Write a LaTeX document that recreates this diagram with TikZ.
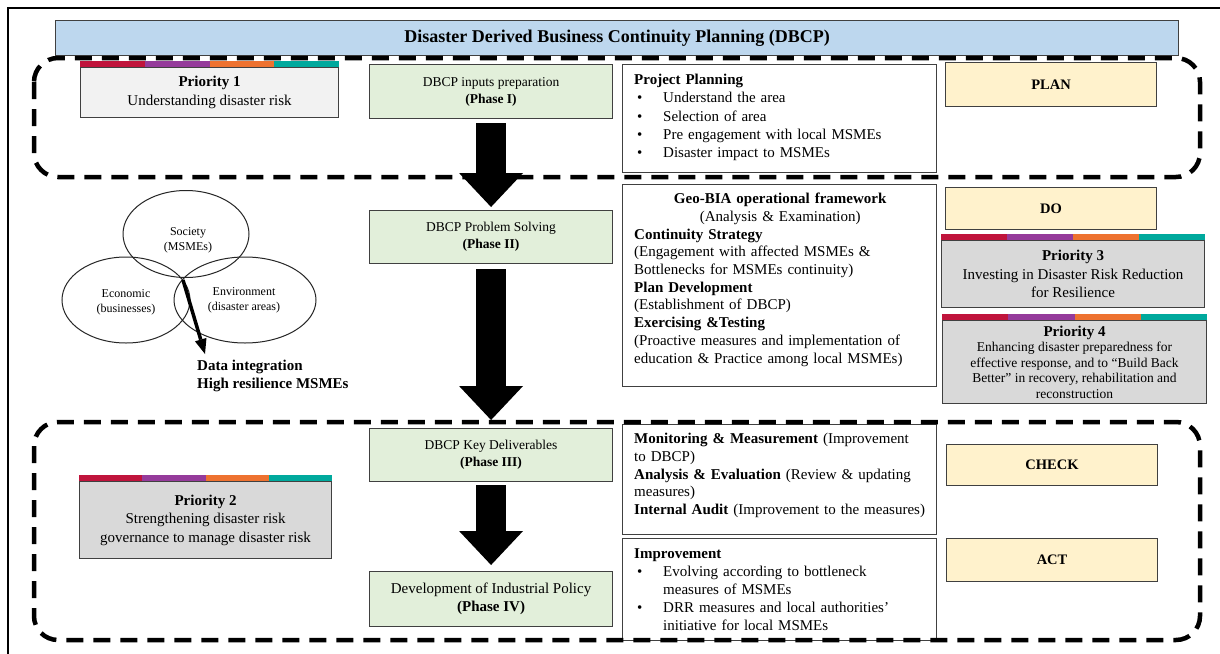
\documentclass[tikz,border=0pt]{standalone}
\usepackage{fontspec}
\setmainfont{Liberation Serif}
\usetikzlibrary{arrows.meta,calc,shapes.geometric}
\definecolor{titleblue}{HTML}{BDD7EE}
\definecolor{phasegreen}{HTML}{E2EFDA}
\definecolor{pdcayellow}{HTML}{FFF2CC}
\definecolor{prigray}{HTML}{D9D9D9}
\definecolor{prilight}{HTML}{F2F2F2}
\definecolor{edgegray}{HTML}{404040}
\definecolor{barred}{HTML}{C0143C}
\definecolor{barpurple}{HTML}{953B9B}
\definecolor{barorange}{HTML}{EE7230}
\definecolor{barteal}{HTML}{00A99D}
\newcommand{\fs}[2]{\fontsize{#1}{#2}\selectfont}
\newcommand{\bul}[1]{\par\noindent\makebox[29pt][l]{\hspace{3pt}\textbullet}#1}
\newcommand{\bulcont}[1]{\par\noindent\hspace*{29pt}#1}
\newcommand{\prioritybar}[1]{%
  \foreach \c [count=\i from 0] in {barred,barpurple,barorange,barteal}
    \fill[\c] ($(#1.north west)!{\i/4}!(#1.north east)$) rectangle ($(#1.north west)!{(\i+1)/4}!(#1.north east)+(0,-6)$);}
\begin{document}
\begin{tikzpicture}[x=1pt,y=-1pt,
  box/.style={draw=edgegray, line width=1.1pt, inner sep=0pt, anchor=north west},
  phase/.style={box, fill=phasegreen, minimum width=243pt, align=center, font=\fs{13.5}{17}},
  pdca/.style={box, fill=pdcayellow, minimum width=211pt, font=\bfseries\fs{14.5}{17}},
  prio/.style={box, fill=prigray, align=center, font=\fs{15}{18.5}},
  txtbox/.style={box, fill=white, minimum width=314pt},
  bodytext/.style={anchor=north west, inner sep=0pt, text width=292pt, font=\fs{15}{17.7}},
  dashedframe/.style={draw=black, line width=4.5pt, dash pattern=on 17pt off 10pt, rounded corners=24pt},
  blockarrow/.style={line width=30pt, -{Triangle[width=64pt,length=34pt,line width=0pt]}},
  vennset/.style={ellipse, draw=black!85, line width=1pt, inner sep=0pt},
  venntext/.style={inner sep=0pt, align=center, font=\fs{12}{15}}
]
\useasboundingbox (0,0) rectangle (1220,653);
\fill[white] (0,0) rectangle (1220,653);
% outer frame
\draw[line width=2pt] (8,8) rectangle (1232,670);

% title
\node[box, fill=titleblue, minimum width=1123pt, minimum height=35pt, font=\bfseries\fs{18}{20}] (title) at (55,20) {Disaster Derived Business Continuity Planning (DBCP)};

% priority boxes
\node[prio, fill=prilight, minimum width=258pt, minimum height=50pt] (pri1) at (80,67) {\textbf{Priority 1}\\Understanding disaster risk};
\prioritybar{pri1}
\node[prio, minimum width=252pt, minimum height=77pt] (pri2) at (79,481) {\textbf{Priority 2}\\Strengthening disaster risk\\governance to manage disaster risk};
\prioritybar{pri2}
\node[prio, minimum width=263pt, minimum height=67pt] (pri3) at (941,240) {\textbf{Priority 3}\\Investing in Disaster Risk Reduction\\for Resilience};
\prioritybar{pri3}
\node[prio, minimum width=264pt, minimum height=83pt, font=\fs{13.5}{15.5}] (pri4) at (942,320) {{\fs{15}{17}\textbf{Priority 4}}\\Enhancing disaster preparedness for\\effective response, and to ``Build Back\\Better'' in recovery, rehabilitation and\\reconstruction};
\prioritybar{pri4}

% phases
\node[phase, minimum height=54pt] (ph1) at (369,64) {DBCP inputs preparation\\\textbf{(Phase I)}};
\node[phase, minimum height=53pt] (ph2) at (369,210) {DBCP Problem Solving\\\textbf{(Phase II)}};
\node[phase, minimum height=53pt] (ph3) at (369,428) {DBCP Key Deliverables\\\textbf{(Phase III)}};
\node[phase, minimum height=55pt, font=\fs{15}{18}] (ph4) at (369,571) {Development of Industrial Policy\\\textbf{(Phase IV)}};

% PDCA
\node[pdca, minimum height=44pt] (plan) at (945,62) {PLAN};
\node[pdca, minimum height=42pt] (do) at (945,187) {DO};
\node[pdca, minimum height=41pt] (check) at (946,444) {CHECK};
\node[pdca, minimum height=43pt] (act) at (946,538) {ACT};

% text boxes
\node[txtbox, minimum height=108pt] (pp) at (622,64) {};
\node[bodytext, font=\fs{15}{18.3}] (pptext) at (634,74) {\textbf{Project Planning}\bul{Understand the area}\bul{Selection of area}\bul{Pre engagement with local MSMEs}\bul{Disaster impact to MSMEs}};

\node[txtbox, minimum height=202pt] (geo) at (622,184) {};
\node[bodytext] (geotext) at (634,193) {{\centering\textbf{Geo-BIA operational framework}\\(Analysis \& Examination)\par}\raggedright
\textbf{Continuity Strategy}\\(Engagement with affected MSMEs \&\\Bottlenecks for MSMEs continuity)\\\textbf{Plan Development}\\(Establishment of DBCP)\\\textbf{Exercising \&Testing}\\(Proactive measures and implementation of\\education \& Practice among local MSMEs)};

\node[txtbox, minimum height=110pt] (mon) at (622,424) {};
\node[bodytext] (montext) at (634,433) {\raggedright\textbf{Monitoring \& Measurement} (Improvement\\to DBCP)\\\textbf{Analysis \& Evaluation} (Review \& updating\\measures)\\\textbf{Internal Audit} (Improvement to the measures)};

\node[txtbox, minimum height=102pt] (imp) at (622,538) {};
\node[bodytext, font=\fs{15}{18}] (imptext) at (634,548) {\textbf{Improvement}\bul{Evolving according to bottleneck}\bulcont{measures of MSMEs}\bul{DRR measures and local authorities'}\bulcont{initiative for local MSMEs}};

% dashed groups
\draw[dashedframe] (34,58) rectangle (1200,177);
\draw[dashedframe] (34,422) rectangle (1200,640);

% block arrows
\draw[blockarrow] ([yshift=-4pt]ph1.south) -- ([yshift=3pt]ph2.north);
\draw[blockarrow] ([yshift=-5pt]ph2.south) -- ([yshift=8pt]ph3.north);
\draw[blockarrow] ([yshift=-3pt]ph3.south) -- ([yshift=6pt]ph4.north);

% Venn diagram
\node[vennset, minimum width=126pt, minimum height=87pt] (society) at (186,234) {};
\node[vennset, minimum width=128pt, minimum height=86pt] (economic) at (126,300) {};
\node[vennset, minimum width=142pt, minimum height=86pt] (environment) at (245,300) {};
\node[venntext] (societytext) at (188,240) {Society\\(MSMEs)};
\node[venntext] (economictext) at (126,302) {Economic\\(businesses)};
\node[venntext] (environmenttext) at (244,300) {Environment\\(disaster areas)};
\node[anchor=north west, inner sep=0pt, align=left, font=\bfseries\fs{15}{18}] (dataint) at (197,360) {Data integration\\High resilience MSMEs};
\coordinate (vstart) at (183,280);
\coordinate (vend) at (205,354);
\draw[line width=3.5pt, -{Triangle[width=12pt,length=15pt,line width=0pt]}] (vstart) -- (vend);
\end{tikzpicture}
\end{document}
